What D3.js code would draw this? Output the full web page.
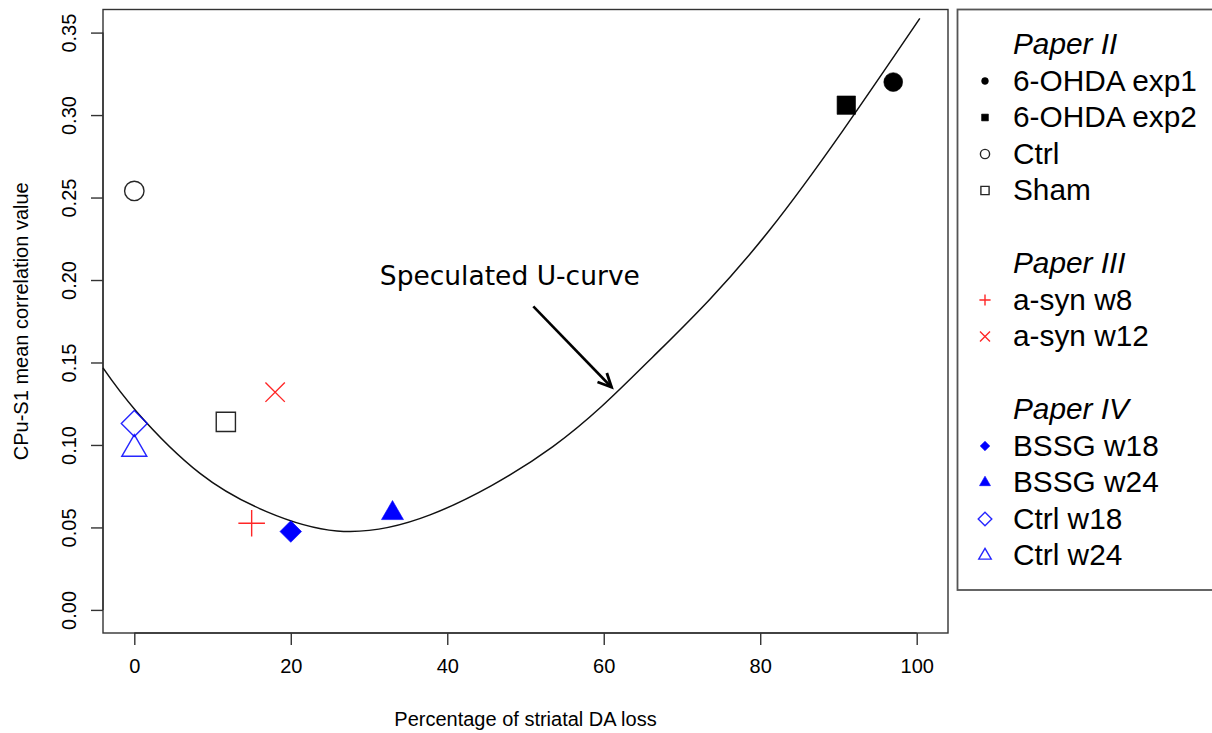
<!DOCTYPE html>
<html>
<head>
<meta charset="utf-8">
<script src="https://cdn.jsdelivr.net/npm/d3@7/dist/d3.min.js"></script>
<style>
  body { margin: 0; background: #fff; }
  svg { display: block; }
  text { font-family: "Liberation Sans", Arial, sans-serif; fill: #000; }
</style>
</head>
<body>
<svg id="chart" width="1212" height="733"></svg>
<script>
// data
const groups   = ["6-OHDA exp1", "6-OHDA exp2", "Ctrl", "Sham", "a-syn w8", "a-syn w12", "BSSG w18", "BSSG w24", "Ctrl w18", "Ctrl w24"];
const papers   = ["Paper II", "Paper II", "Paper II", "Paper II", "Paper III", "Paper III", "Paper IV", "Paper IV", "Paper IV", "Paper IV"];
const daLoss   = [97, 91, 0, 11.7, 15, 18, 20, 33, 0, 0];
const corrVal  = [0.320, 0.306, 0.254, 0.114, 0.0525, 0.132, 0.0475, 0.0586, 0.113, 0.0975];

// the hand drawn "speculated" U-curve
const curveX = [-4, 0.3, 8.4, 16.9, 25.9, 37.8, 53.5, 66.3, 81.2, 100.4];
const curveY = [0.1467, 0.1202, 0.0828, 0.0596, 0.0479, 0.0576, 0.0990, 0.1535, 0.2303, 0.3586];

const xTicks = [0, 20, 40, 60, 80, 100];
const yTicks = [0, 0.05, 0.10, 0.15, 0.20, 0.25, 0.30, 0.35];

const note = {label: "Speculated U-curve", x: 48, y: 0.2};
const arrow = {x0: 51, y0: 0.184, x1: 61, y1: 0.135};

// how each group is drawn: shape, fill/stroke, size in plot and in legend
const style = {
  "6-OHDA exp1": {shape: "circle",   col: "#000", fill: true,  s: 9.4,  ls: 3.4},
  "6-OHDA exp2": {shape: "square",   col: "#000", fill: true,  s: 9.2,  ls: 3.4},
  "Ctrl":        {shape: "circle",   col: "#000", fill: false, s: 9.7,  ls: 4.6},
  "Sham":        {shape: "square",   col: "#000", fill: false, s: 9.6,  ls: 4.1},
  "a-syn w8":    {shape: "plus",     col: "#f00", fill: false, s: 13.3, ls: 5.6},
  "a-syn w12":   {shape: "cross",    col: "#f00", fill: false, s: 9.7,  ls: 5.0},
  "BSSG w18":    {shape: "diamond",  col: "#00f", fill: true,  s: 10.8, ls: 4.8},
  "BSSG w24":    {shape: "triangle", col: "#00f", fill: true,  s: 22,   ls: 11},
  "Ctrl w18":    {shape: "diamond",  col: "#00f", fill: false, s: 13,   ls: 6.8},
  "Ctrl w24":    {shape: "triangle", col: "#00f", fill: false, s: 25,   ls: 12.5}
};

function symbolPath(shape, s) {
  if (shape === "circle") return "M" + s + ",0A" + s + "," + s + " 0 1,1 " + (-s) + ",0A" + s + "," + s + " 0 1,1 " + s + ",0Z";
  if (shape === "square") return "M" + (-s) + "," + (-s) + "H" + s + "V" + s + "H" + (-s) + "Z";
  if (shape === "diamond") return "M0," + (-s) + "L" + s + ",0L0," + s + "L" + (-s) + ",0Z";
  if (shape === "triangle") {
    let h = s / Math.sqrt(3);
    return "M0," + (-h) + "L" + (s / 2) + "," + (h / 2) + "L" + (-s / 2) + "," + (h / 2) + "Z";
  }
  if (shape === "plus") return "M" + (-s) + ",0H" + s + "M0," + (-s) + "V" + s;
  if (shape === "cross") return "M" + (-s) + "," + (-s) + "L" + s + "," + s + "M" + s + "," + (-s) + "L" + (-s) + "," + s;
}

function drawSymbol(g, st, size) {
  let filled = st.fill;
  g.append("path")
    .attr("d", symbolPath(st.shape, size))
    .attr("fill", filled ? st.col : "none")
    .attr("stroke", st.col)
    .attr("stroke-width", filled ? 0.6 : 1.4)
    .attr("stroke-opacity", filled ? 1 : 0.85);
}

let svg = d3.select("svg#chart");

let box = {left: 103, right: 948, top: 9.5, bottom: 633};

let xScale = d3.scaleLinear().domain([-4, 104]).range([box.left, box.right]);
let yScale = d3.scaleLinear().domain([-0.014, 0.364]).range([box.bottom, box.top]);

// plot frame
svg.append("rect")
  .attr("x", box.left).attr("y", box.top)
  .attr("width", box.right - box.left).attr("height", box.bottom - box.top)
  .attr("fill", "none").attr("stroke", "#333").attr("stroke-width", 1.4);

// axes
let xAxis = d3.axisBottom(xScale).tickValues(xTicks).tickSize(12).tickPadding(14).tickFormat(d3.format("d"));
let xGroup = svg.append("g").attr("transform", "translate(0," + box.bottom + ")").call(xAxis);
xGroup.select(".domain").attr("d", "M" + xScale(0) + ",0H" + xScale(100)).attr("stroke", "#333").attr("stroke-width", 1.4);

let yAxis = d3.axisLeft(yScale).tickValues(yTicks).tickSize(12).tickPadding(0).tickFormat(d3.format(".2f"));
let yGroup = svg.append("g").attr("transform", "translate(" + box.left + ",0)").call(yAxis);
yGroup.select(".domain").attr("d", "M0," + yScale(0) + "V" + yScale(0.35)).attr("stroke", "#333").attr("stroke-width", 1.4);

svg.selectAll(".tick line").attr("stroke", "#333").attr("stroke-width", 1.4);
xGroup.selectAll(".tick text")
  .style("font-size", "20px").style("font-family", "Liberation Sans, Arial, sans-serif").attr("fill", "#000");
yGroup.selectAll(".tick text")
  .style("font-size", "20px").style("font-family", "Liberation Sans, Arial, sans-serif").attr("fill", "#000")
  .attr("text-anchor", "middle")
  .attr("x", null).attr("dy", null)
  .attr("transform", "translate(-27,0) rotate(-90)");

// axis titles
svg.append("text")
  .attr("x", (xScale(0) + xScale(100)) / 2 + 0)
  .attr("y", 726)
  .style("font-size", "20px")
  .style("text-anchor", "middle")
  .text("Percentage of striatal DA loss");

svg.append("text")
  .attr("transform", "translate(28," + ((box.top + box.bottom) / 2) + ") rotate(-90)")
  .style("font-size", "20px")
  .style("text-anchor", "middle")
  .text("CPu-S1 mean correlation value");

// U-curve
let pts = curveX.map((x, i) => [x, curveY[i]]);
let line = d3.line()
  .x(d => xScale(d[0]))
  .y(d => yScale(d[1]))
  .curve(d3.curveNatural);
svg.append("path")
  .datum(pts)
  .attr("d", line)
  .attr("fill", "none")
  .attr("stroke", "#111")
  .attr("stroke-width", 1.5);

// annotation and arrow
svg.append("text")
  .attr("x", xScale(note.x))
  .attr("y", yScale(note.y))
  .attr("dy", "0.2em")
  .style("font-family", "DejaVu Sans, sans-serif")
  .style("font-size", "26.5px")
  .style("text-anchor", "middle")
  .text(note.label);

let ax0 = xScale(arrow.x0), ay0 = yScale(arrow.y0), ax1 = xScale(arrow.x1), ay1 = yScale(arrow.y1);
let ang = Math.atan2(ay1 - ay0, ax1 - ax0);
let headLen = 15;
svg.append("line")
  .attr("x1", ax0).attr("y1", ay0).attr("x2", ax1).attr("y2", ay1)
  .attr("stroke", "#000").attr("stroke-width", 2.6);
svg.append("path")
  .attr("d", "M" + (ax1 - headLen * Math.cos(ang - Math.PI / 7)) + "," + (ay1 - headLen * Math.sin(ang - Math.PI / 7)) +
             "L" + ax1 + "," + ay1 +
             "L" + (ax1 - headLen * Math.cos(ang + Math.PI / 7)) + "," + (ay1 - headLen * Math.sin(ang + Math.PI / 7)))
  .attr("fill", "none").attr("stroke", "#000").attr("stroke-width", 2.8).attr("stroke-linejoin", "miter");

// points
groups.forEach(function (gName, i) {
  let g = svg.append("g").attr("transform", "translate(" + xScale(daLoss[i]) + "," + yScale(corrVal[i]) + ")");
  drawSymbol(g, style[gName], style[gName].s);
});

// legend
svg.append("rect")
  .attr("x", 957.5).attr("y", 9.5)
  .attr("width", 270).attr("height", 580.5)
  .attr("fill", "#fff").attr("stroke", "#555").attr("stroke-width", 1.8);

let rows = [];
let lastPaper = null;
groups.forEach(function (gName, i) {
  if (papers[i] !== lastPaper) {
    if (lastPaper !== null) rows.push({blank: true});
    rows.push({head: papers[i]});
    lastPaper = papers[i];
  }
  rows.push({group: gName});
});

rows.forEach(function (r, i) {
  let base = 54 + i * 36.5;
  if (r.blank) return;
  if (r.head) {
    svg.append("text")
      .attr("x", 1013).attr("y", base)
      .style("font-size", "29.8px")
      .style("font-style", "italic")
      .text(r.head);
    return;
  }
  let g = svg.append("g").attr("transform", "translate(985," + (base - 9.5) + ")");
  drawSymbol(g, style[r.group], style[r.group].ls);
  svg.append("text")
    .attr("x", 1013).attr("y", base)
    .style("font-size", "29.8px")
    .text(r.group);
});
</script>
</body>
</html>
